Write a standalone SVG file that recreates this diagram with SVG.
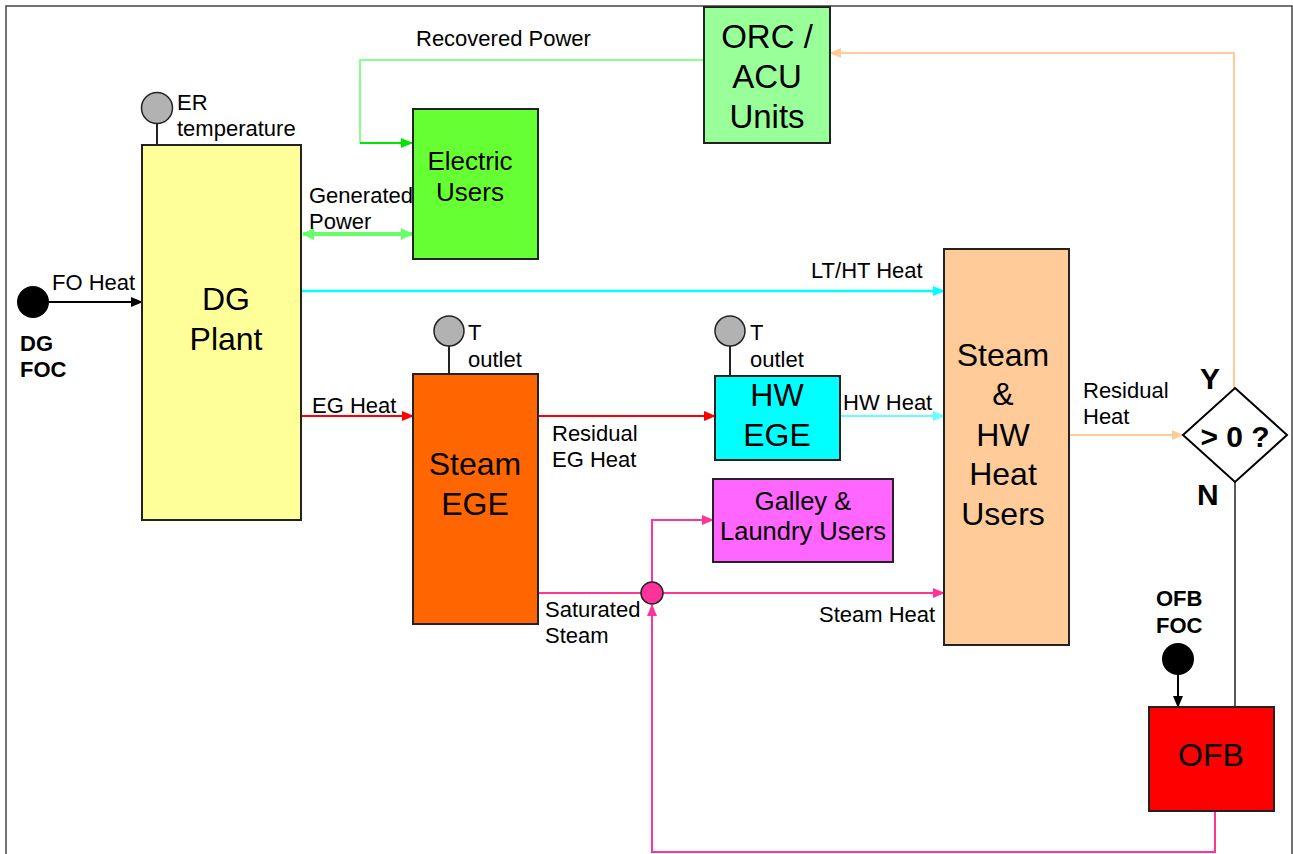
<svg xmlns="http://www.w3.org/2000/svg" width="1293" height="854" viewBox="0 0 1293 854">
<style>
.box{stroke:#222;stroke-width:2}
.lbl{font-family:"Liberation Sans",Arial,sans-serif;font-size:22px;fill:#000}
.big{font-family:"Liberation Sans",Arial,sans-serif;font-size:32px;fill:#000;text-anchor:middle}
.mid{font-family:"Liberation Sans",Arial,sans-serif;font-size:25.5px;fill:#000;text-anchor:middle}
.bold{font-family:"Liberation Sans",Arial,sans-serif;font-weight:bold;font-size:22px;fill:#000}
.sensor{fill:#B2B2B2;stroke:#222;stroke-width:1.5}
.ln{fill:none}
</style>
<defs>
<marker id="aBlack" markerWidth="12" markerHeight="10" refX="11" refY="5" orient="auto" markerUnits="userSpaceOnUse"><path d="M0,0 L12,5 L0,10 z" fill="#000"/></marker>
<marker id="aRed" markerWidth="12" markerHeight="10" refX="11" refY="5" orient="auto" markerUnits="userSpaceOnUse"><path d="M0,0 L12,5 L0,10 z" fill="#FF0000"/></marker>
<marker id="aCyan" markerWidth="12" markerHeight="10" refX="11" refY="5" orient="auto" markerUnits="userSpaceOnUse"><path d="M0,0 L12,5 L0,10 z" fill="#00FFFF"/></marker>
<marker id="aLCyan" markerWidth="12" markerHeight="10" refX="11" refY="5" orient="auto" markerUnits="userSpaceOnUse"><path d="M0,0 L12,5 L0,10 z" fill="#66FFFF"/></marker>
<marker id="aPink" markerWidth="12" markerHeight="10" refX="11" refY="5" orient="auto" markerUnits="userSpaceOnUse"><path d="M0,0 L12,5 L0,10 z" fill="#FF3399"/></marker>
<marker id="aGreen" markerWidth="12" markerHeight="10" refX="11" refY="5" orient="auto" markerUnits="userSpaceOnUse"><path d="M0,0 L12,5 L0,10 z" fill="#00E600"/></marker>
<marker id="aLGreen" markerWidth="12" markerHeight="12" refX="11" refY="6" orient="auto-start-reverse" markerUnits="userSpaceOnUse"><path d="M0,0 L12,6 L0,12 z" fill="#66FF66"/></marker>
<marker id="aPeach" markerWidth="12" markerHeight="10" refX="11" refY="5" orient="auto" markerUnits="userSpaceOnUse"><path d="M0,0 L12,5 L0,10 z" fill="#FFCC99"/></marker>
</defs>
<rect x="0" y="0" width="1293" height="854" fill="#fff"/>
<rect x="6" y="6" width="1286" height="870" fill="none" stroke="#444" stroke-width="1.5"/>

<g id="connectors">
  <path class="ln" d="M704,60 H360 V143" stroke="#66FF66" stroke-width="1.5"/>
  <path class="ln" d="M360,143 H412" stroke="#00E600" stroke-width="2" marker-end="url(#aGreen)"/>
  <path class="ln" d="M303,234 H412" stroke="#66FF66" stroke-width="4" marker-start="url(#aLGreen)" marker-end="url(#aLGreen)"/>
  <path class="ln" d="M49,302 H142" stroke="#000" stroke-width="2" marker-end="url(#aBlack)"/>
  <path class="ln" d="M301,291 H944" stroke="#00FFFF" stroke-width="2.5" marker-end="url(#aCyan)"/>
  <path class="ln" d="M301,416 H413" stroke="#FF0000" stroke-width="2" marker-end="url(#aRed)"/>
  <path class="ln" d="M538,416 H715" stroke="#FF0000" stroke-width="2" marker-end="url(#aRed)"/>
  <path class="ln" d="M840,416 H944" stroke="#66FFFF" stroke-width="2" marker-end="url(#aLCyan)"/>
  <path class="ln" d="M538,593 H641" stroke="#FF3399" stroke-width="2"/>
  <path class="ln" d="M663,593 H944" stroke="#FF3399" stroke-width="2" marker-end="url(#aPink)"/>
  <path class="ln" d="M652,582 V520 H713" stroke="#FF3399" stroke-width="2" marker-end="url(#aPink)"/>
  <path class="ln" d="M1215,811 V852 H652 V605" stroke="#FF3399" stroke-width="2" marker-end="url(#aPink)"/>
  <path class="ln" d="M1069,435 H1183" stroke="#FFCC99" stroke-width="2" marker-end="url(#aPeach)"/>
  <path class="ln" d="M1234,388 V53 H830" stroke="#FFCC99" stroke-width="2" marker-end="url(#aPeach)"/>
  <path class="ln" d="M1235,482 V707" stroke="#222" stroke-width="1.5"/>
  <path class="ln" d="M1178,675 V707" stroke="#000" stroke-width="2" marker-end="url(#aBlack)"/>
  <circle cx="652" cy="593" r="11" fill="#FF3399" stroke="#222" stroke-width="1.5"/>
</g>

<g id="dg-foc">
  <circle cx="33" cy="302" r="16" fill="#000"/>
  <text class="bold" x="20" y="351">DG</text>
  <text class="bold" x="20" y="377">FOC</text>
  <text class="lbl" x="52" y="290">FO Heat</text>
</g>

<g id="dg-plant">
  <line x1="157" y1="123" x2="157" y2="145" stroke="#222" stroke-width="2"/>
  <circle class="sensor" cx="157" cy="108" r="15.5"/>
  <text class="lbl" x="177" y="110">ER</text>
  <text class="lbl" x="177" y="136">temperature</text>
  <rect class="box" x="142" y="145" width="159" height="375" fill="#FFFF99"/>
  <text class="big" x="226" y="310">DG</text>
  <text class="big" x="226" y="350">Plant</text>
</g>

<g id="electric-users">
  <rect class="box" x="413" y="109" width="125" height="150" fill="#66FF33"/>
  <text class="mid" x="470" y="170" style="font-size:26px">Electric</text>
  <text class="mid" x="470" y="201" style="font-size:26px">Users</text>
  <text class="lbl" x="309" y="203">Generated</text>
  <text class="lbl" x="309" y="229">Power</text>
  <text class="lbl" x="416" y="46">Recovered Power</text>
</g>

<g id="orc-acu">
  <rect class="box" x="704" y="7" width="126" height="136" fill="#99FF99"/>
  <text class="big" x="767" y="48" style="font-size:33px">ORC /</text>
  <text class="big" x="767" y="88" style="font-size:33px">ACU</text>
  <text class="big" x="767" y="128" style="font-size:33px">Units</text>
</g>

<g id="steam-ege">
  <line x1="449" y1="346" x2="449" y2="374" stroke="#222" stroke-width="2"/>
  <circle class="sensor" cx="449" cy="331" r="15"/>
  <text class="lbl" x="468" y="340">T</text>
  <text class="lbl" x="468" y="367">outlet</text>
  <rect class="box" x="413" y="374" width="125" height="250" fill="#FF6600"/>
  <text class="big" x="475" y="475">Steam</text>
  <text class="big" x="475" y="515">EGE</text>
  <text class="lbl" x="312" y="413">EG Heat</text>
  <text class="lbl" x="552" y="441">Residual</text>
  <text class="lbl" x="552" y="467">EG Heat</text>
  <text class="lbl" x="545" y="617">Saturated</text>
  <text class="lbl" x="545" y="643">Steam</text>
</g>

<g id="hw-ege">
  <line x1="730" y1="346" x2="730" y2="376" stroke="#222" stroke-width="2"/>
  <circle class="sensor" cx="730" cy="331" r="15"/>
  <text class="lbl" x="750" y="340">T</text>
  <text class="lbl" x="750" y="367">outlet</text>
  <rect class="box" x="715" y="376" width="125" height="84" fill="#00FFFF"/>
  <text class="big" x="777" y="406">HW</text>
  <text class="big" x="777" y="446">EGE</text>
  <text class="lbl" x="843" y="410">HW Heat</text>
</g>

<g id="galley-laundry">
  <rect class="box" x="713" y="479" width="180" height="83" fill="#FF66FF"/>
  <text class="mid" x="803" y="510">Galley &amp;</text>
  <text class="mid" x="803" y="540">Laundry Users</text>
</g>

<g id="heat-users">
  <rect class="box" x="944" y="249" width="125" height="396" fill="#FFCC99"/>
  <text class="big" x="1003" y="366">Steam</text>
  <text class="big" x="1003" y="405">&amp;</text>
  <text class="big" x="1003" y="446">HW</text>
  <text class="big" x="1003" y="485">Heat</text>
  <text class="big" x="1003" y="525">Users</text>
  <text class="lbl" x="811" y="278">LT/HT Heat</text>
  <text class="lbl" x="819" y="622">Steam Heat</text>
  <text class="lbl" x="1083" y="398">Residual</text>
  <text class="lbl" x="1083" y="424">Heat</text>
</g>

<g id="decision">
  <polygon points="1235,388 1287,435 1235,482 1183,435" fill="#fff" stroke="#000" stroke-width="2"/>
  <text class="bold" x="1235" y="447" text-anchor="middle" style="font-size:30px">&gt; 0 ?</text>
  <text class="bold" x="1200" y="389" style="font-size:30px">Y</text>
  <text class="bold" x="1197" y="505" style="font-size:30px">N</text>
</g>

<g id="ofb">
  <text class="bold" x="1156" y="606">OFB</text>
  <text class="bold" x="1156" y="633">FOC</text>
  <circle cx="1178" cy="659" r="16" fill="#000"/>
  <rect class="box" x="1149" y="707" width="125" height="104" fill="#FF0000"/>
  <text class="big" x="1211" y="766">OFB</text>
</g>
</svg>
